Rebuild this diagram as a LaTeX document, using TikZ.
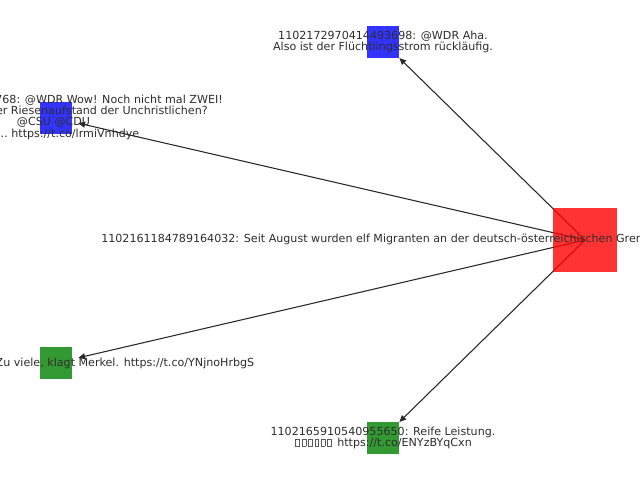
\documentclass[tikz,border=0pt]{standalone}
\usepackage{fontspec}
\setmainfont{DejaVu Sans}
\usetikzlibrary{arrows.meta,calc}
\definecolor{txt}{RGB}{45,45,45}
\definecolor{edgec}{RGB}{40,40,40}
\definecolor{tofuc}{RGB}{90,90,90}
\definecolor{mplgreen}{RGB}{0,128,0}
\newcommand\tofu{\makebox[0.58em]{\textcolor{tofuc}{\fboxsep=0pt\fboxrule=0.05em\fbox{\rule{0pt}{0.6em}\hspace{0.3em}}}}}
\begin{document}
\begin{tikzpicture}[x=0.75pt,y=-0.75pt,
  font=\fontsize{8.33pt}{8pt}\selectfont,
  sq/.style={rectangle, inner sep=0pt, draw=none, fill opacity=0.8},
  small/.style={sq, minimum size=24pt},
  big/.style={sq, minimum size=48pt},
  lbl/.style={text=txt, inner sep=0pt, anchor=base},
  edgeline/.style={draw=edgec, line width=0.8pt, -{Triangle[length=5pt,width=4.5pt]}}]
\useasboundingbox (0,0) rectangle (640,480);
\clip (0,0) rectangle (640,480);
% centres
\coordinate (cr) at (585,240);
\coordinate (cb1) at (383,42);
\coordinate (cb2) at (56,118);
\coordinate (cg1) at (56,363);
\coordinate (cg2) at (383,438);
% arrow ends
\coordinate (eb1) at ($(cb1)!17.25pt!(cr)$);
\coordinate (eb2) at ($(cb2)!17.25pt!(cr)$);
\coordinate (eg1) at ($(cg1)!17.25pt!(cr)$);
\coordinate (eg2) at ($(cg2)!17.25pt!(cr)$);
% edges
\draw[edgeline] (cr) -- (eb1);
\draw[edgeline] (cr) -- (eb2);
\draw[edgeline] (cr) -- (eg1);
\draw[edgeline] (cr) -- (eg2);
% squares
\node[big, fill=red] (r) at (cr) {};
\node[small, fill=blue] (b1) at (cb1) {};
\node[small, fill=blue] (b2) at (cb2) {};
\node[small, fill=mplgreen] (g1) at (cg1) {};
\node[small, fill=mplgreen] (g2) at (cg2) {};
% labels
\node[lbl] (tb1a) at (383,39.8) {1102172970414493698: @WDR Aha.};
\node[lbl] (tb1b) at (383,50) {Also ist der Flüchtlingsstrom rückläufig.};
\node[lbl, anchor=base east] (tb2a) at (223,103.5) {768: @WDR Wow! Noch nicht mal ZWEI!};
\node[lbl, anchor=base east] (tb2b) at (208,114.5) {er Riesenaufstand der Unchristlichen?};
\node[lbl] (tb2c) at (53.5,125.8) {@CSU @CDU};
\node[lbl, anchor=base east] (tb2d) at (139.5,137) {… https://t.co/lrmiVnhdye};
\node[lbl, anchor=base west] (tr) at (101,242.8) {1102161184789164032: Seit August wurden elf Migranten an der deutsch-österreichischen Grenze};
\node[lbl, anchor=base east] (tg1) at (254.5,366.5) {Zu viele, klagt Merkel. https://t.co/YNjnoHrbgS};
\node[lbl] (tg2a) at (383,435.5) {1102165910540955650: Reife Leistung.};
\node[lbl] (tg2b) at (383,446.2) {\tofu\tofu\tofu\tofu\tofu\tofu\hspace{0.4em}https://t.co/ENYzBYqCxn};
\end{tikzpicture}
\end{document}
